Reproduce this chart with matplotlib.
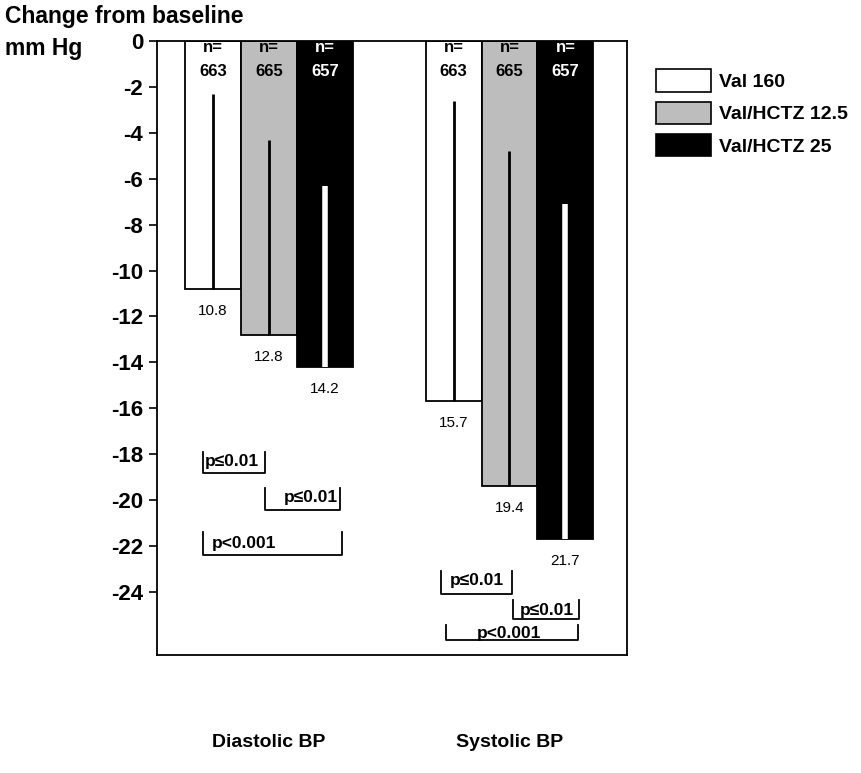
import matplotlib
matplotlib.use("Agg")
import matplotlib.pyplot as plt
from matplotlib.patches import Patch

plt.rcParams['font.family'] = ['Liberation Sans', 'DejaVu Sans']
plt.rcParams['axes.unicode_minus'] = False

# ---- data ----
categories = ["Diastolic BP", "Systolic BP"]
treatments = ["Val 160", "Val/HCTZ 12.5", "Val/HCTZ 25"]
n_labels = ["663", "665", "657"]
diastolic_change = [-10.8, -12.8, -14.2]
systolic_change = [-15.7, -19.4, -21.7]
diastolic_inner_top = [-2.3, -4.3, -6.3]
systolic_inner_top = [-2.6, -4.8, -7.1]
diastolic_p = ["p≤0.01", "p≤0.01", "p<0.001"]
systolic_p = ["p≤0.01", "p≤0.01", "p<0.001"]
yticks = list(range(0, -25, -2))

# ---- layout ----
W, H = 861, 773
fig = plt.figure(figsize=(W / 100, H / 100), dpi=100)
ax = fig.add_axes([157 / W, 1 - 655 / H, 470 / W, 614 / H])

colors = ['white', '#bdbdbd', 'black']
text_colors = ['black', 'black', 'white']
inner_colors = ['black', 'black', 'white']
inner_widths = [2.0, 2.0, 4.0]
group_centers = [2.0, 6.3]
offsets = [-1, 0, 1]

for gc, vals, tops in zip(group_centers,
                          [diastolic_change, systolic_change],
                          [diastolic_inner_top, systolic_inner_top]):
    xs = [gc + o for o in offsets]
    ax.bar(xs, vals, width=1.0, color=colors, edgecolor='black',
           linewidth=1.3, zorder=2)
    for x, v, t, ic, iw, tc, n in zip(xs, vals, tops, inner_colors,
                                      inner_widths, text_colors, n_labels):
        ax.plot([x, x], [t, v], color=ic, lw=iw, solid_capstyle='butt', zorder=3)
        ax.text(x, -0.3, "n=", ha='center', va='center', fontsize=12,
                fontweight='bold', color=tc, zorder=4)
        ax.text(x, -1.35, n, ha='center', va='center', fontsize=12,
                fontweight='bold', color=tc, zorder=4)
        ax.text(x, v - 0.95, f"{abs(v):.1f}", ha='center', va='center',
                fontsize=11, zorder=4)

# significance brackets: (x0, x1, ytop, ybot, tx, ty, ha)
brackets_d = [(0.82, 1.93, -17.9, -18.8, 0.86, -18.3, 'left'),
              (1.93, 3.27, -19.47, -20.43, 3.23, -19.9, 'right'),
              (0.82, 3.30, -21.4, -22.4, 0.98, -21.9, 'left')]
brackets_s = [(5.07, 6.34, -23.1, -24.1, 5.72, -23.5, 'center'),
              (6.36, 7.55, -24.35, -25.2, 6.96, -24.8, 'center'),
              (5.16, 7.52, -25.45, -26.1, 6.3, -25.8, 'center')]
for labels, brs in [(diastolic_p, brackets_d), (systolic_p, brackets_s)]:
    for lab, (x0, x1, yt, yb, tx, ty, ha) in zip(labels, brs):
        ax.plot([x0, x0, x1, x1], [yt, yb, yb, yt], color='black', lw=1.3,
                zorder=3)
        ax.text(tx, ty, lab, ha=ha, va='center', fontsize=12.5,
                fontweight='bold', zorder=4)

ax.set_xlim(0, 8.4)
ax.set_ylim(-26.75, 0)
ax.set_yticks(yticks)
ax.set_yticklabels([str(t) for t in yticks], fontsize=16, fontweight='bold')
ax.tick_params(axis='y', length=6, width=1.2, direction='out', pad=4)
ax.set_xticks(group_centers)
ax.set_xticklabels(categories, fontsize=14, fontweight='bold')
ax.tick_params(axis='x', length=0, pad=57)
for s in ax.spines.values():
    s.set_linewidth(1.3)

fig.text(5 / W, 1 - 17 / H, "Change from baseline", fontsize=16.5,
         fontweight='bold', va='center', ha='left')
fig.text(5 / W, 1 - 48 / H, "mm Hg", fontsize=16.5,
         fontweight='bold', va='center', ha='left')

handles = [Patch(facecolor=c, edgecolor='black', linewidth=1.2) for c in colors]
fig.legend(handles, treatments, loc='upper left',
           bbox_to_anchor=(638 / W, 1 - 52 / H), frameon=False,
           handlelength=2.85, handleheight=1.4, labelspacing=0.5,
           handletextpad=0.4, prop=dict(weight='bold', size=14))

fig.savefig("out.png", dpi=100)
